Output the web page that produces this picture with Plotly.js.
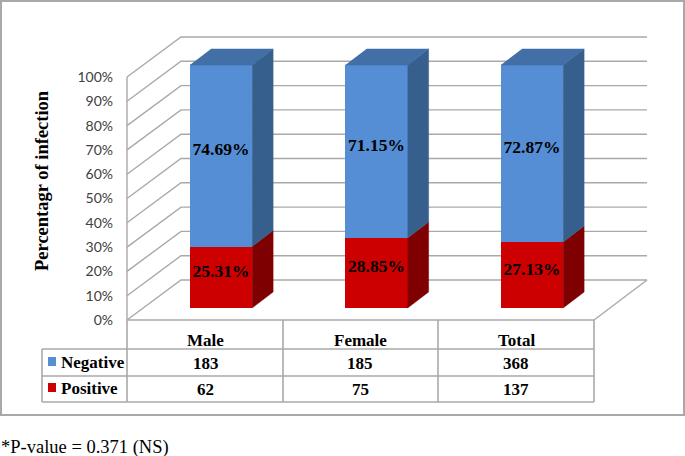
<!DOCTYPE html>
<html>
<head>
<meta charset="utf-8">
<script src="https://cdn.plot.ly/plotly-3.0.1.min.js"></script>
<style>html,body{margin:0;padding:0;background:#fff}#chart{width:685px;height:456px}</style>
</head>
<body>
<div id="chart"></div>
<script>
var categories = ["Male", "Female", "Total"];
var negativePct = [74.69, 71.15, 72.87];
var positivePct = [25.31, 28.85, 27.13];
var negativeCount = [183, 185, 368];
var positiveCount = [62, 75, 137];
var seriesNames = ["Negative", "Positive"];
var tickValues = [0, 10, 20, 30, 40, 50, 60, 70, 80, 90, 100];

var W = 685, H = 456;
var GRID = "#a9a9a9", SERIF = "'Liberation Serif', serif";
var COL = {neg: "#558ed5", negSide: "#375f8d", negTop: "#416fa6", pos: "#cc0000", posSide: "#7f0000"};

var xUnit = 155.5, xZero = 221;               // px per category, px of category 0
var xRange = [-xZero / xUnit, (W - xZero) / xUnit];
var pxX = function (p) { return (p - xZero) / xUnit; };

var axisUnit = 2.43;                          // px per percent
var axisRange = [-(H - 320) / axisUnit, 320 / axisUnit];      // front wall plane: 0% at 320px
var barRange = [-(H - 308) / axisUnit, 308 / axisUnit];       // bar front plane: 0% at 308px

var traces = [];
// Walls and floor
var wallX0 = pxX(127), wallX1 = pxX(181), wallX2 = pxX(647), floorX2 = pxX(594), wallRise = 40 / axisUnit;
tickValues.forEach(function (t) {
  traces.push({type: "scatter", mode: "lines", xaxis: "x", yaxis: "y", hoverinfo: "skip", showlegend: false,
    x: [wallX0, wallX1, wallX2], y: [t, t + wallRise, t + wallRise],
    line: {color: GRID, width: 1.4}});
});
traces.push({type: "scatter", mode: "lines", xaxis: "x", yaxis: "y", hoverinfo: "skip", showlegend: false,
  x: [wallX2, floorX2], y: [wallRise, 0], line: {color: GRID, width: 1.4}});
traces.push({type: "scatter", mode: "lines", xaxis: "x", yaxis: "y", hoverinfo: "skip", showlegend: false,
  x: [wallX0, wallX0], y: [0, 100], line: {color: GRID, width: 1.4}});

// 3D bar faces derived from the data
var halfW = 0.2, dx = 21 / xUnit, dy = 16 / axisUnit;
function poly(fn) {
  var xs = [], ys = [];
  categories.forEach(function (c, i) {
    fn(i).forEach(function (pt) { xs.push(pt[0]); ys.push(pt[1]); });
    xs.push(null); ys.push(null);
  });
  return {x: xs, y: ys};
}
function face(p, color) {
  return {type: "scatter", mode: "lines", fill: "toself", fillcolor: color, xaxis: "x", yaxis: "y2",
    x: p.x, y: p.y, line: {color: color, width: 0.5}, hoverinfo: "skip", showlegend: false};
}
traces.push(face(poly(function (i) {
  var r = i + halfW, v = positivePct[i];
  return [[r, 0], [r + dx, dy], [r + dx, v + dy], [r, v]];
}), COL.posSide));
traces.push(face(poly(function (i) {
  var r = i + halfW, a = positivePct[i], b = a + negativePct[i];
  return [[r, a], [r + dx, a + dy], [r + dx, b + dy], [r, b]];
}), COL.negSide));
traces.push(face(poly(function (i) {
  var l = i - halfW, r = i + halfW, b = positivePct[i] + negativePct[i];
  return [[l, b], [r, b], [r + dx, b + dy], [l + dx, b + dy]];
}), COL.negTop));

var xIdx = categories.map(function (c, i) { return i; });
traces.push({type: "bar", name: seriesNames[1], x: xIdx, y: positivePct, width: 0.4, xaxis: "x", yaxis: "y2",
  marker: {color: COL.pos, line: {width: 0}}, showlegend: false});
traces.push({type: "bar", name: seriesNames[0], x: xIdx, y: negativePct, width: 0.4, xaxis: "x", yaxis: "y2",
  marker: {color: COL.neg, line: {width: 0}}, showlegend: false});

// Data labels
var lift = 2;
traces.push({type: "scatter", mode: "text", xaxis: "x", yaxis: "y2", hoverinfo: "skip", showlegend: false,
  x: xIdx.concat(xIdx),
  y: positivePct.map(function (v) { return v / 2 + lift; })
    .concat(negativePct.map(function (v, i) { return positivePct[i] + v / 2 + lift; })),
  text: positivePct.concat(negativePct).map(function (v) { return v.toFixed(2) + "%"; }),
  textposition: "middle center",
  textfont: {family: SERIF, size: 17.5, color: "#000", weight: "bold"}});

// Paper helpers
var px = function (p) { return p / W; }, py = function (p) { return 1 - p / H; };
function seg(x0, y0, x1, y1) {
  return {type: "line", xref: "paper", yref: "paper", x0: px(x0), y0: py(y0), x1: px(x1), y1: py(y1),
    line: {color: GRID, width: 1.6}, layer: "above"};
}
function rect(x0, y0, x1, y1, fill) {
  return {type: "rect", xref: "paper", yref: "paper", x0: px(x0), y0: py(y0), x1: px(x1), y1: py(y1),
    line: {width: 0}, fillcolor: fill, layer: "above"};
}
function txt(s, x, y, size, opts) {
  return Object.assign({xref: "paper", yref: "paper", x: px(x), y: py(y), text: s, showarrow: false,
    xanchor: "center", yanchor: "middle", font: {family: SERIF, size: size, color: "#000"}, borderpad: 0}, opts || {});
}
var colC = [205.5, 360, 516];
var shapes = [
  {type: "rect", xref: "paper", yref: "paper", x0: px(1), y0: py(1), x1: px(684), y1: py(415),
    line: {color: GRID, width: 2}, fillcolor: "rgba(0,0,0,0)", layer: "below"},
  seg(127, 320, 594, 320), seg(42, 349, 594, 349), seg(42, 376, 594, 376), seg(42, 402, 594, 402),
  seg(42, 349, 42, 402), seg(127, 320, 127, 402), seg(283, 320, 283, 402), seg(438, 320, 438, 402), seg(594, 320, 594, 402),
  rect(48, 357, 56, 366, COL.neg), rect(48, 383, 56, 392, COL.pos)
];
var annotations = [
  txt("<b>Percentagr of infection</b>", 42, 181, 18.5, {textangle: -90}),
  txt("<b>" + seriesNames[0] + "</b>", 60, 362, 17, {xanchor: "left"}),
  txt("<b>" + seriesNames[1] + "</b>", 60, 388, 17, {xanchor: "left"}),
  txt("*P-value = 0.371 (NS)", 0, 447, 18.5, {xanchor: "left"})
];
categories.forEach(function (c, i) {
  annotations.push(txt("<b>" + c + "</b>", colC[i], 340, 17));
  annotations.push(txt("<b>" + negativeCount[i] + "</b>", colC[i], 363, 17));
  annotations.push(txt("<b>" + positiveCount[i] + "</b>", colC[i], 389, 17));
});

var layout = {
  width: W, height: H, margin: {l: 0, r: 0, t: 0, b: 0, pad: 0},
  paper_bgcolor: "#fff", plot_bgcolor: "rgba(0,0,0,0)",
  barmode: "stack", showlegend: false, hovermode: false,
  xaxis: {range: xRange, visible: false, fixedrange: true, domain: [0, 1]},
  yaxis: {range: axisRange, anchor: "free", position: px(127), side: "left", tickmode: "array",
    tickvals: tickValues, ticktext: tickValues.map(function (t) { return t + "%"; }),
    showgrid: false, zeroline: false, showline: false, ticks: "", ticklabelstandoff: 14,
    tickfont: {family: "Lato, sans-serif", size: 14, color: "#404040"}, fixedrange: true, domain: [0, 1]},
  yaxis2: {range: barRange, overlaying: "y", visible: false, fixedrange: true},
  shapes: shapes, annotations: annotations
};
Plotly.newPlot("chart", traces, layout, {displayModeBar: false, staticPlot: true});
</script>
</body>
</html>
